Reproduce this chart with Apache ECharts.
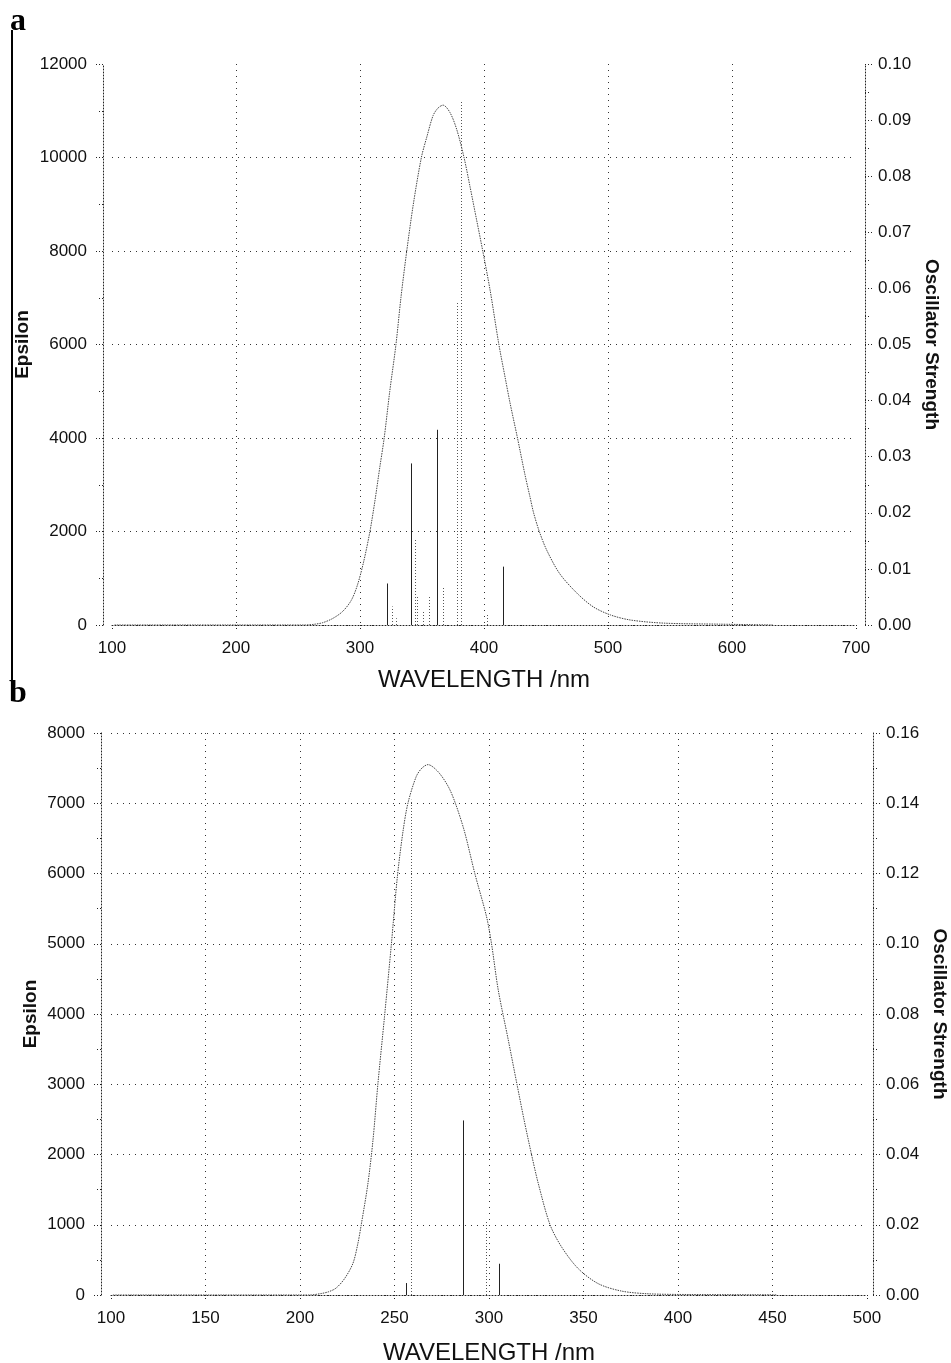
<!DOCTYPE html>
<html>
<head>
<meta charset="utf-8">
<script src="https://cdn.jsdelivr.net/npm/echarts@6/dist/echarts.min.js"></script>
<style>
html, body { margin: 0; padding: 0; background: #fff; }
#chart { width: 951px; height: 1363px; }
</style>
</head>
<body>
<div id="chart"></div>
<script>
// panel a : convoluted spectrum (nm, epsilon)
var curveA = [[102,0],[200,0],[255,0],[263,15],[270,50],[278,140],[286,290],[293,530],[298,860],
    [303,1360],[308,2000],[312,2650],[316,3380],[319.5,4000],[324,5000],[329,6000],[333,7000],
    [337.7,8000],[343,9000],[349.5,10000],[354,10450],[359,10900],[363,11060],[367,11120],
    [372.6,10960],[378,10600],[383.9,10000],[388.7,9380],[394,8670],[399,8000],[405,7150],
    [412,6000],[417,5300],[421,4750],[427,4000],[433,3220],[437,2750],[440,2400],[444.6,2000],
    [450.6,1600],[461,1100],[475,680],[488,390],[502,215],[518,107],[545,40],[590,18],[633,0]];
// panel a : oscillator strengths (nm, f)
var sticksA = [[322,0.0074],[340.9,0.0288],[361.8,0.0348],[415,0.0104]];
var sticksAFaint = [[325.5,0.0033],[329,0.0012],[344.6,0.0155],[346,0.005],[351,0.0024],
    [355.9,0.005],[366.7,0.0068],[378.2,0.0576],[381.5,0.0933],[402.2,0.0021]];

// panel b
var curveB = [[101,0],[150,0],[205,0],[211,20],[215,45],[219,97],[223.5,230],[228,450],[230.6,730],
    [232.4,1000],[235.9,1580],[238.6,2200],[241.2,3000],[244.7,3960],[248.3,4980],[251.5,5950],
    [254.5,6600],[257.1,7000],[261.5,7380],[264.5,7500],[267.7,7550],[273,7450],[278.4,7240],
    [282.2,7000],[287,6600],[292.5,6000],[298.7,5385],[301.3,5005],[304.9,4340],[310.2,3630],
    [314.8,3000],[318.5,2500],[322.5,2000],[326.1,1585],[332.3,1000],[338.5,680],[347.3,373],
    [357.9,160],[370.3,55],[384.5,17],[405.7,7],[452,3]];
var sticksB = [[256.2,0.0034],[286.3,0.0497],[305.4,0.0089]];
var sticksBFaint = [[258.9,0.141],[298.3,0.0212]];

var xTicksA = [100, 700, 100];      // min, max, step
var xTicksB = [100, 500, 50];
var epsTicksA = [0, 12000, 2000];
var epsTicksB = [0, 8000, 1000];
var oscTicksA = [0, 0.10, 0.01];
var oscTicksB = [0, 0.16, 0.02];

var FONT = 'Liberation Sans, Arial, Helvetica, sans-serif';
var dotted = { color: '#222', type: [1, 2], width: 1 };
var gridDots = { color: '#333', type: [1, 5], width: 1 };

function xAxis(idx, t, gap) {
    return {
        type: 'value', gridIndex: idx, min: t[0], max: t[1], interval: t[2], offset: 8,
        axisLine: { show: true, lineStyle: dotted },
        axisTick: { show: true, length: 5, lineStyle: dotted },
        minorTick: { show: true, splitNumber: 10, length: 3, lineStyle: dotted },
        axisLabel: { fontSize: 17, color: '#111', fontFamily: FONT, margin: 7 },
        splitLine: { show: true, showMinLine: false, showMaxLine: false, lineStyle: gridDots },
        name: 'WAVELENGTH /nm', nameLocation: 'middle', nameGap: gap, nameMoveOverlap: false,
        nameTextStyle: { fontSize: 24, color: '#111', fontFamily: FONT }
    };
}
function epsAxis(idx, t, off, gap, maxLine) {
    return {
        type: 'value', gridIndex: idx, min: t[0], max: t[1], interval: t[2], offset: off,
        axisLine: { show: true, lineStyle: dotted },
        axisTick: { show: true, length: 7, lineStyle: dotted },
        minorTick: { show: true, splitNumber: 2, length: 5, lineStyle: dotted },
        axisLabel: { fontSize: 17, color: '#111', fontFamily: FONT, margin: 16,
            formatter: function (v) { return String(v); } },
        splitLine: { show: true, showMinLine: false, showMaxLine: maxLine, lineStyle: gridDots },
        name: 'Epsilon', nameLocation: 'middle', nameGap: gap, nameMoveOverlap: false,
        nameTextStyle: { fontSize: 19, fontWeight: 'bold', color: '#111', fontFamily: FONT }
    };
}
function oscAxis(idx, t, off, gap) {
    return {
        type: 'value', gridIndex: idx, position: 'right', min: t[0], max: t[1], interval: t[2], offset: off,
        axisLine: { show: true, lineStyle: dotted },
        axisTick: { show: true, length: 7, lineStyle: dotted },
        minorTick: { show: true, splitNumber: 2, length: 4, lineStyle: dotted },
        axisLabel: { fontSize: 17, color: '#111', fontFamily: FONT, margin: 13,
            formatter: function (v) { return v.toFixed(2); } },
        splitLine: { show: false },
        name: 'Oscillator Strength', nameLocation: 'middle', nameRotate: -90, nameGap: gap,
        nameTextStyle: { fontSize: 19, fontWeight: 'bold', color: '#111', fontFamily: FONT }
    };
}
function curve(x, y, data) {
    return {
        type: 'line', xAxisIndex: x, yAxisIndex: y, data: data, showSymbol: false,
        smooth: 0.3,
        silent: true, lineStyle: { color: '#444', width: 1, type: [1.5, 1] }
    };
}
function sticks(x, y, data, faint) {
    return {
        type: 'custom', xAxisIndex: x, yAxisIndex: y, data: data, silent: true,
        encode: { x: 0, y: 1 },
        renderItem: function (params, api) {
            var p0 = api.coord([api.value(0), 0]);
            var p1 = api.coord([api.value(0), api.value(1)]);
            var px = Math.round(p0[0]) + 0.5;
            return {
                type: 'line',
                shape: { x1: px, y1: p0[1], x2: px, y2: p1[1] },
                style: faint ? { stroke: '#555', lineWidth: 1, lineDash: [1, 2] }
                             : { stroke: '#222', lineWidth: 1 }
            };
        }
    };
}

var myChart = echarts.init(document.getElementById('chart'));
var option = {
    backgroundColor: '#fff',
    animation: false,
    grid: [
        { left: 112, right: 95, top: 64, bottom: 738, outerBoundsMode: 'none' },
        { left: 111, right: 84, top: 733, bottom: 68, outerBoundsMode: 'none' }
    ],
    xAxis: [xAxis(0, xTicksA, 35), xAxis(1, xTicksB, 38)],
    yAxis: [
        epsAxis(0, epsTicksA, 9, 71, false),
        oscAxis(0, oscTicksA, 9, 55),
        epsAxis(1, epsTicksB, 10, 61, true),
        oscAxis(1, oscTicksB, 6, 57)
    ],
    series: [
        curve(0, 0, curveA),
        sticks(0, 1, sticksA, false),
        sticks(0, 1, sticksAFaint, true),
        curve(1, 2, curveB),
        sticks(1, 3, sticksB, false),
        sticks(1, 3, sticksBFaint, true)
    ],
    graphic: [
        { type: 'line', shape: { x1: 12, y1: 30, x2: 12, y2: 683 }, style: { stroke: '#000', lineWidth: 2 } },
        { type: 'text', x: 10, y: 22, style: { text: 'a', font: 'bold 32px "Liberation Serif", "Times New Roman", serif',
            fill: '#000', verticalAlign: 'middle' } },
        { type: 'text', x: 9, y: 694, style: { text: 'b', font: 'bold 32px "Liberation Serif", "Times New Roman", serif',
            fill: '#000', verticalAlign: 'middle' } }
    ]
};
myChart.setOption(option);
</script>
</body>
</html>
